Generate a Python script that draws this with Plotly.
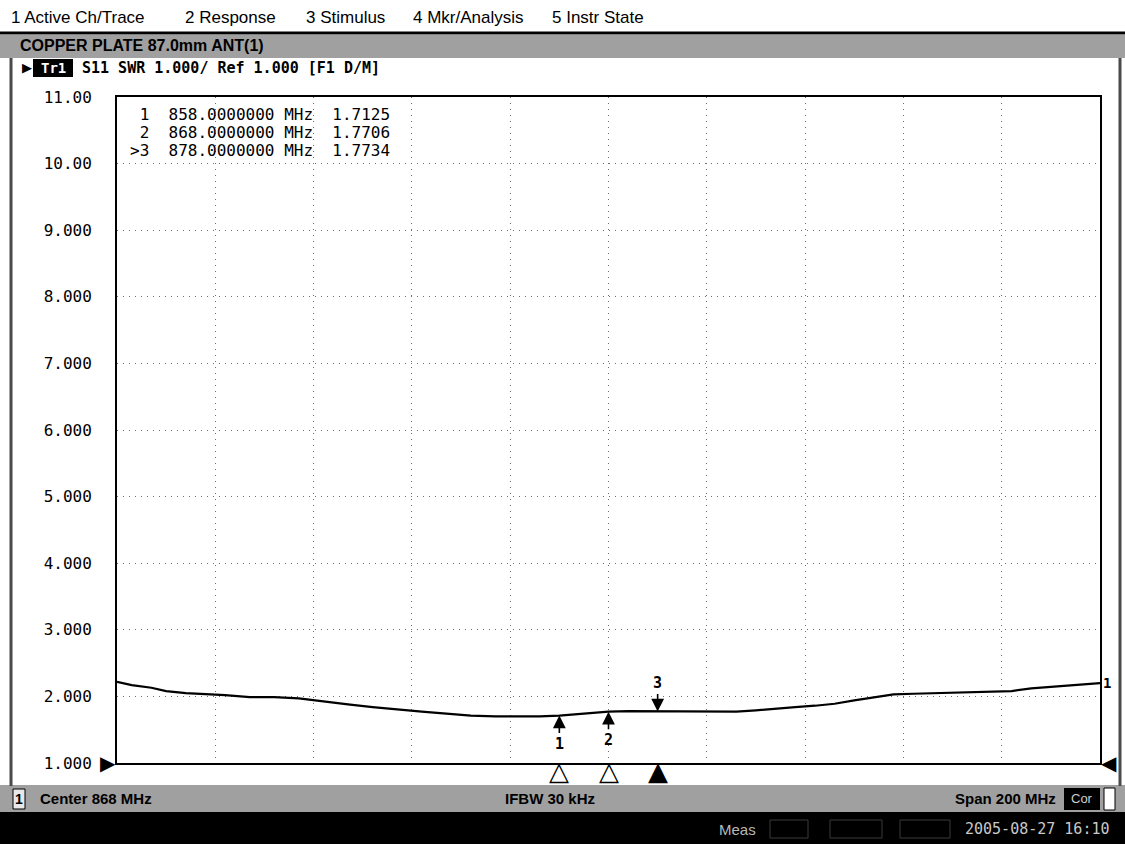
import plotly.graph_objects as go

# ---------------- data ----------------
freq_mhz = [768, 771, 775, 778, 782, 785, 790, 795, 800, 805,
            810, 815, 820, 825, 830, 835, 840, 845, 850, 854,
            858, 862, 865, 868, 872, 875, 878, 882, 886, 890,
            894, 898, 902, 906, 910, 914, 918, 922, 926, 930,
            934, 938, 942, 946, 950, 954, 958, 962, 965, 968]
swr = [2.22, 2.17, 2.13, 2.08, 2.05, 2.04, 2.02, 1.99, 1.99, 1.97,
       1.92, 1.88, 1.84, 1.80, 1.77, 1.74, 1.71, 1.70, 1.70, 1.70,
       1.7125, 1.74, 1.76, 1.7706, 1.78, 1.78, 1.7734, 1.77, 1.77, 1.77,
       1.77, 1.79, 1.82, 1.84, 1.86, 1.89, 1.94, 1.99, 2.03, 2.04,
       2.05, 2.06, 2.07, 2.07, 2.08, 2.12, 2.14, 2.16, 2.18, 2.20]

marker_ids = ["1", "2", "3"]
marker_freq = [858, 868, 878]
marker_swr = [1.7125, 1.7706, 1.7734]
active_marker = "3"

y_tick_vals = [1, 2, 3, 4, 5, 6, 7, 8, 9, 10, 11]
y_tick_text = ["1.000", "2.000", "3.000", "4.000", "5.000", "6.000",
               "7.000", "8.000", "9.000", "10.00", "11.00"]

menu_items = ["1 Active Ch/Trace", "2 Response", "3 Stimulus",
              "4 Mkr/Analysis", "5 Instr State"]
title_text = "COPPER PLATE 87.0mm ANT(1)"
trace_text = "S11 SWR 1.000/ Ref 1.000 [F1 D/M]"
center_text = "Center 868 MHz"
ifbw_text = "IFBW 30 kHz"
span_text = "Span 200 MHz"
date_text = "2005-08-27 16:10"

# ---------------- geometry helpers (pixel -> paper) ----------------
W, H = 1125, 844
L, R, T, B = 117, 1100, 97, 763


def px(x):
    return (x - L) / (R - L)


def py(y):
    return (B - y) / (B - T)


MONO = "DejaVu Sans Mono"
SANS = "Liberation Sans"

fig = go.Figure()
fig.add_trace(go.Scatter(
    x=freq_mhz, y=swr, mode="lines",
    line=dict(color="black", width=2.2),
    hoverinfo="skip", showlegend=False,
))

shapes = []
annotations = []

# menu bar
menu_x = [9, 183, 304, 411, 550]
for txt, x in zip(menu_items, menu_x):
    annotations.append(dict(xref="paper", yref="paper", x=px(x), y=py(18),
                            xanchor="left", yanchor="middle", showarrow=False,
                            text=txt, font=dict(family=SANS, size=17, color="black")))
shapes.append(dict(type="line", xref="paper", yref="paper",
                   x0=px(0), x1=px(W), y0=py(33), y1=py(33),
                   line=dict(color="black", width=3)))
# title bar
shapes.append(dict(type="rect", xref="paper", yref="paper", layer="below",
                   x0=px(0), x1=px(W), y0=py(58), y1=py(35),
                   fillcolor="#a0a0a0", line=dict(width=0)))
annotations.append(dict(xref="paper", yref="paper", x=px(18), y=py(46),
                        xanchor="left", yanchor="middle", showarrow=False,
                        text="<b>" + title_text + "</b>",
                        font=dict(family=SANS, size=16, color="black")))
# outer side borders
for xb in (11, 1120):
    shapes.append(dict(type="line", xref="paper", yref="paper",
                       x0=px(xb), x1=px(xb), y0=py(58), y1=py(786),
                       line=dict(color="#4a4a4a", width=3)))

# trace line header
annotations.append(dict(xref="paper", yref="paper", x=px(20), y=py(68),
                        xanchor="left", yanchor="middle", showarrow=False,
                        text="▶", font=dict(family=SANS, size=13, color="black")))
shapes.append(dict(type="rect", xref="paper", yref="paper",
                   x0=px(33), x1=px(73), y0=py(77), y1=py(59),
                   fillcolor="black", line=dict(width=0)))
annotations.append(dict(xref="paper", yref="paper", x=px(53), y=py(68),
                        xanchor="center", yanchor="middle", showarrow=False,
                        text="<b>Tr1</b>", font=dict(family=MONO, size=14, color="white")))
annotations.append(dict(xref="paper", yref="paper", x=px(80), y=py(68),
                        xanchor="left", yanchor="middle", showarrow=False,
                        text="<b>" + trace_text + "</b>",
                        font=dict(family=MONO, size=15, color="black")))

# marker table
rows = []
for mid, f, v in zip(marker_ids, marker_freq, marker_swr):
    prefix = (">" if mid == active_marker else " ") + mid
    rows.append(f"{prefix}  {f:.7f} MHz  {v:.4f}")
for i, row in enumerate(rows):
    annotations.append(dict(xref="paper", yref="paper", x=px(128), y=py(115 + 17.5 * i),
                            xanchor="left", yanchor="middle", showarrow=False,
                            text=row.replace(" ", "&nbsp;"),
                            font=dict(family=MONO, size=16, color="black")))

# trace markers: arrow pointing at the trace with the marker number at its tail
for mid, f, v in zip(marker_ids, marker_freq, marker_swr):
    is_active = mid == active_marker
    annotations.append(dict(x=f, y=v, xref="x", yref="y",
                            showarrow=True, arrowhead=2, arrowsize=1.6, arrowwidth=1.6,
                            arrowcolor="black", standoff=0, startstandoff=0,
                            ax=0, ay=(-28 if is_active else 28),
                            text=f"<b>{mid}</b>",
                            font=dict(family=MONO, size=15, color="black")))
    annotations.append(dict(x=f, y=py(771), xref="x", yref="paper", showarrow=False,
                            xanchor="center", yanchor="middle",
                            text=("▲" if is_active else "△"),
                            font=dict(family="DejaVu Sans", size=26, color="black")))

# trace end label and reference arrows
annotations.append(dict(x=freq_mhz[-1], y=swr[-1], xref="x", yref="y", showarrow=False,
                        xanchor="left", yanchor="middle", xshift=1,
                        text="<b>1</b>", font=dict(family=MONO, size=14, color="black")))
annotations.append(dict(x=0, y=1, xref="paper", yref="y", showarrow=False,
                        xanchor="right", yanchor="middle", xshift=1,
                        text="▶", font=dict(family="DejaVu Sans", size=20, color="black")))
annotations.append(dict(x=1, y=1, xref="paper", yref="y", showarrow=False,
                        xanchor="left", yanchor="middle", xshift=-1,
                        text="◀", font=dict(family="DejaVu Sans", size=20, color="black")))

# status bar
shapes.append(dict(type="rect", xref="paper", yref="paper", layer="below",
                   x0=px(0), x1=px(W), y0=py(812), y1=py(785),
                   fillcolor="#a0a0a0", line=dict(width=0)))
shapes.append(dict(type="rect", xref="paper", yref="paper",
                   x0=px(13), x1=px(25), y0=py(809), y1=py(789),
                   fillcolor="#e8e8e8", line=dict(color="black", width=1)))
annotations.append(dict(xref="paper", yref="paper", x=px(19), y=py(799),
                        xanchor="center", yanchor="middle", showarrow=False,
                        text="<b>1</b>", font=dict(family=SANS, size=14, color="black")))
annotations.append(dict(xref="paper", yref="paper", x=px(38), y=py(799),
                        xanchor="left", yanchor="middle", showarrow=False,
                        text="<b>" + center_text + "</b>",
                        font=dict(family=SANS, size=15, color="black")))
annotations.append(dict(xref="paper", yref="paper", x=px(550), y=py(799),
                        xanchor="center", yanchor="middle", showarrow=False,
                        text="<b>" + ifbw_text + "</b>",
                        font=dict(family=SANS, size=15, color="black")))
annotations.append(dict(xref="paper", yref="paper", x=px(1058), y=py(799),
                        xanchor="right", yanchor="middle", showarrow=False,
                        text="<b>" + span_text + "</b>",
                        font=dict(family=SANS, size=15, color="black")))
shapes.append(dict(type="rect", xref="paper", yref="paper",
                   x0=px(1064), x1=px(1100), y0=py(810), y1=py(788),
                   fillcolor="black", line=dict(width=0)))
annotations.append(dict(xref="paper", yref="paper", x=px(1082), y=py(799),
                        xanchor="center", yanchor="middle", showarrow=False,
                        text="Cor", font=dict(family=SANS, size=13, color="#cfcfcf")))
shapes.append(dict(type="rect", xref="paper", yref="paper",
                   x0=px(1104), x1=px(1115), y0=py(810), y1=py(788),
                   fillcolor="white", line=dict(color="black", width=1)))

# bottom black bar
shapes.append(dict(type="rect", xref="paper", yref="paper", layer="below",
                   x0=px(0), x1=px(W), y0=py(H), y1=py(812),
                   fillcolor="black", line=dict(width=0)))
annotations.append(dict(xref="paper", yref="paper", x=px(717), y=py(829),
                        xanchor="left", yanchor="middle", showarrow=False,
                        text="Meas", font=dict(family=SANS, size=15, color="#b8b8b8")))
for x0, x1 in ((770, 808), (830, 882), (900, 950)):
    shapes.append(dict(type="rect", xref="paper", yref="paper",
                       x0=px(x0), x1=px(x1), y0=py(838), y1=py(820),
                       fillcolor="black", line=dict(color="#3a3a3a", width=1)))
annotations.append(dict(xref="paper", yref="paper", x=px(1112), y=py(829),
                        xanchor="right", yanchor="middle", showarrow=False,
                        text=date_text, font=dict(family=MONO, size=15, color="#c8c8c8")))

fig.update_layout(
    width=W, height=H,
    margin=dict(l=L, r=W - R, t=T, b=H - B, pad=0),
    paper_bgcolor="white", plot_bgcolor="white",
    showlegend=False,
    shapes=shapes, annotations=annotations,
    xaxis=dict(range=[768, 968], tick0=768, dtick=20,
               showticklabels=False, ticks="",
               showgrid=True, gridcolor="#707070", gridwidth=1, griddash="1px,5px",
               showline=True, linecolor="black", linewidth=2, mirror=True,
               zeroline=False, fixedrange=True),
    yaxis=dict(range=[1, 11], tickvals=y_tick_vals, ticktext=y_tick_text,
               tickfont=dict(family=MONO, size=16, color="black"),
               ticks="", ticklabelstandoff=20,
               showgrid=True, gridcolor="#707070", gridwidth=1, griddash="1px,5px",
               showline=True, linecolor="black", linewidth=2, mirror=True,
               zeroline=False, fixedrange=True),
)

fig.write_html("out.html", config={"displayModeBar": False},
               post_script="document.body.style.margin='0px';document.body.style.overflow='hidden';")
